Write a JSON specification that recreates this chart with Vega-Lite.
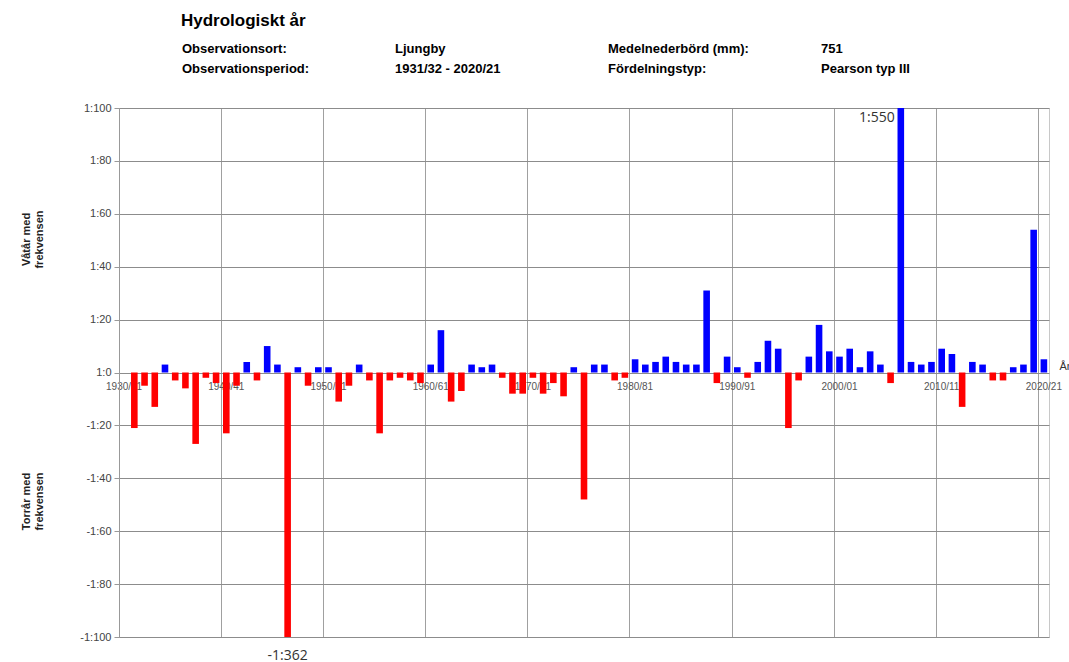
{
  "$schema": "https://vega.github.io/schema/vega-lite/v6.json",
  "padding": {"left": 19, "top": 12, "right": 0, "bottom": 0},
  "bounds": "flush",
  "spacing": 29,
  "config": {"view": {"stroke": null}, "font": "Liberation Sans"},
  "datasets": {
    "meta": [
      {"group": "1", "line": "1", "label": "Observationsort:", "value": "Ljungby"},
      {"group": "1", "line": "2", "label": "Observationsperiod:", "value": "1931/32  -  2020/21"},
      {"group": "2", "line": "1", "label": "Medelnederbörd (mm):", "value": "751"},
      {"group": "2", "line": "2", "label": "Fördelningstyp:", "value": "Pearson typ III"}
    ],
    "freq": [
      {"year": "1931/32", "value": -21}, {"year": "1932/33", "value": -5}, {"year": "1933/34", "value": -13},
      {"year": "1934/35", "value": 3}, {"year": "1935/36", "value": -3}, {"year": "1936/37", "value": -6},
      {"year": "1937/38", "value": -27}, {"year": "1938/39", "value": -2}, {"year": "1939/40", "value": -4},
      {"year": "1940/41", "value": -23}, {"year": "1941/42", "value": -5}, {"year": "1942/43", "value": 4},
      {"year": "1943/44", "value": -3}, {"year": "1944/45", "value": 10}, {"year": "1945/46", "value": 3},
      {"year": "1946/47", "value": -362}, {"year": "1947/48", "value": 2}, {"year": "1948/49", "value": -5},
      {"year": "1949/50", "value": 2}, {"year": "1950/51", "value": 2}, {"year": "1951/52", "value": -11},
      {"year": "1952/53", "value": -5}, {"year": "1953/54", "value": 3}, {"year": "1954/55", "value": -3},
      {"year": "1955/56", "value": -23}, {"year": "1956/57", "value": -3}, {"year": "1957/58", "value": -2},
      {"year": "1958/59", "value": -3}, {"year": "1959/60", "value": -4}, {"year": "1960/61", "value": 3},
      {"year": "1961/62", "value": 16}, {"year": "1962/63", "value": -11}, {"year": "1963/64", "value": -7},
      {"year": "1964/65", "value": 3}, {"year": "1965/66", "value": 2}, {"year": "1966/67", "value": 3},
      {"year": "1967/68", "value": -2}, {"year": "1968/69", "value": -8}, {"year": "1969/70", "value": -8},
      {"year": "1970/71", "value": -2}, {"year": "1971/72", "value": -8}, {"year": "1972/73", "value": -4},
      {"year": "1973/74", "value": -9}, {"year": "1974/75", "value": 2}, {"year": "1975/76", "value": -48},
      {"year": "1976/77", "value": 3}, {"year": "1977/78", "value": 3}, {"year": "1978/79", "value": -3},
      {"year": "1979/80", "value": -2}, {"year": "1980/81", "value": 5}, {"year": "1981/82", "value": 3},
      {"year": "1982/83", "value": 4}, {"year": "1983/84", "value": 6}, {"year": "1984/85", "value": 4},
      {"year": "1985/86", "value": 3}, {"year": "1986/87", "value": 3}, {"year": "1987/88", "value": 31},
      {"year": "1988/89", "value": -4}, {"year": "1989/90", "value": 6}, {"year": "1990/91", "value": 2},
      {"year": "1991/92", "value": -2}, {"year": "1992/93", "value": 4}, {"year": "1993/94", "value": 12},
      {"year": "1994/95", "value": 9}, {"year": "1995/96", "value": -21}, {"year": "1996/97", "value": -3},
      {"year": "1997/98", "value": 6}, {"year": "1998/99", "value": 18}, {"year": "1999/00", "value": 8},
      {"year": "2000/01", "value": 6}, {"year": "2001/02", "value": 9}, {"year": "2002/03", "value": 2},
      {"year": "2003/04", "value": 8}, {"year": "2004/05", "value": 3}, {"year": "2005/06", "value": -4},
      {"year": "2006/07", "value": 550}, {"year": "2007/08", "value": 4}, {"year": "2008/09", "value": 3},
      {"year": "2009/10", "value": 4}, {"year": "2010/11", "value": 9}, {"year": "2011/12", "value": 7},
      {"year": "2012/13", "value": -13}, {"year": "2013/14", "value": 4}, {"year": "2014/15", "value": 3},
      {"year": "2015/16", "value": -3}, {"year": "2016/17", "value": -3}, {"year": "2017/18", "value": 2},
      {"year": "2018/19", "value": 3}, {"year": "2019/20", "value": 54}, {"year": "2020/21", "value": 5}
    ]
  },
  "vconcat": [
    {
      "width": 930,
      "height": 40,
      "view": {"stroke": null},
      "title": {"text": "Hydrologiskt år", "anchor": "start", "dx": 62, "fontSize": 17, "fontWeight": "bold", "color": "#000000", "offset": 9, "font": "Liberation Sans"},
      "data": {"name": "meta"},
      "transform": [{"fold": ["label", "value"], "as": ["key", "text"]}],
      "mark": {"type": "text", "align": "left", "baseline": "middle", "fontSize": 13, "fontWeight": "bold", "color": "#000000", "font": "Liberation Sans"},
      "encoding": {
        "x": {"field": "group", "type": "nominal", "bandPosition": 0, "scale": {"type": "band", "domain": ["1", "2"], "paddingInner": 0.5, "paddingOuter": 0.3415, "align": 0.2165}, "axis": null},
        "xOffset": {"field": "key", "type": "nominal", "scale": {"type": "point", "domain": ["label", "value"], "padding": 0}},
        "y": {"field": "line", "type": "nominal", "scale": {"type": "point", "domain": ["1", "2"], "padding": 0.5}, "axis": null},
        "text": {"field": "text"}
      }
    },
    {
      "width": 930,
      "height": 529,
      "view": {"stroke": "#c8c8c8"},
      "data": {"name": "freq"},
      "resolve": {"axis": {"y": "independent"}},
      "encoding": {
        "x": {
          "field": "year", "type": "ordinal",
          "scale": {"type": "band", "paddingInner": 0.35, "paddingOuter": 0.175, "domain": [
            "1930/31","1931/32","1932/33","1933/34","1934/35","1935/36","1936/37","1937/38","1938/39","1939/40",
            "1940/41","1941/42","1942/43","1943/44","1944/45","1945/46","1946/47","1947/48","1948/49","1949/50",
            "1950/51","1951/52","1952/53","1953/54","1954/55","1955/56","1956/57","1957/58","1958/59","1959/60",
            "1960/61","1961/62","1962/63","1963/64","1964/65","1965/66","1966/67","1967/68","1968/69","1969/70",
            "1970/71","1971/72","1972/73","1973/74","1974/75","1975/76","1976/77","1977/78","1978/79","1979/80",
            "1980/81","1981/82","1982/83","1983/84","1984/85","1985/86","1986/87","1987/88","1988/89","1989/90",
            "1990/91","1991/92","1992/93","1993/94","1994/95","1995/96","1996/97","1997/98","1998/99","1999/00",
            "2000/01","2001/02","2002/03","2003/04","2004/05","2005/06","2006/07","2007/08","2008/09","2009/10",
            "2010/11","2011/12","2012/13","2013/14","2014/15","2015/16","2016/17","2017/18","2018/19","2019/20",
            "2020/21"]},
          "axis": {
            "values": ["1930/31","1940/41","1950/51","1960/61","1970/71","1980/81","1990/91","2000/01","2010/11","2020/21"],
            "bandPosition": -0.2692,
            "grid": true, "gridColor": "#a0a0a0", "gridWidth": 1, "gridOpacity": 1,
            "ticks": false, "tickSize": 0, "domain": false,
            "labelAngle": 0, "labelFontSize": 10, "labelColor": "#555555", "labelPadding": 9, "labelOverlap": false,
            "labelFont": "Liberation Sans",
            "offset": -264.5,
            "title": "År", "titleX": 940, "titleY": -6, "titleAlign": "left", "titleBaseline": "middle", "titleAngle": 0,
            "titleFontSize": 11, "titleFontWeight": "normal", "titleColor": "#333333", "titleFont": "Liberation Sans"
          }
        }
      },
      "layer": [
        {
          "mark": {"type": "bar", "width": 6.6},
          "encoding": {
            "y": {
              "field": "value", "type": "quantitative",
              "scale": {"domain": [-100, 100], "clamp": true, "nice": false},
              "axis": {
                "values": [-100, -80, -60, -40, -20, 0, 20, 40, 60, 80, 100],
                "labelExpr": "datum.value >= 0 ? '1:' + datum.value : '-1:' + (-datum.value)",
                "grid": true, "gridColor": "#8c8c8c", "gridWidth": 1, "gridOpacity": 1,
                "domainColor": "#999999", "tickColor": "#999999", "tickSize": 5,
                "labelFontSize": 11, "labelColor": "#444444", "labelPadding": 3, "labelFont": "Liberation Sans",
                "title": ["Våtår med", "frekvensen"],
                "titleX": -93, "titleY": 131, "titleAngle": 270, "titleAlign": "center", "titleBaseline": "middle",
                "titleFontSize": 11, "titleFontWeight": "bold", "titleColor": "#222222", "titleFont": "Liberation Sans"
              }
            },
            "color": {"condition": {"test": "datum.value > 0", "value": "#0000ff"}, "value": "#ff0000"}
          }
        },
        {
          "transform": [{"filter": "datum.value > 100"}, {"calculate": "'1:' + datum.value", "as": "lbl"}],
          "mark": {"type": "text", "align": "right", "baseline": "middle", "dx": -6, "dy": 10, "fontSize": 14, "font": "Open Sans", "color": "#333333"},
          "encoding": {
            "y": {"field": "value", "type": "quantitative", "axis": null},
            "text": {"field": "lbl"}
          }
        },
        {
          "transform": [{"filter": "datum.value < -100"}, {"calculate": "'-1:' + (-datum.value)", "as": "lbl"}],
          "mark": {"type": "text", "align": "center", "baseline": "middle", "dy": 19, "fontSize": 14, "font": "Open Sans", "color": "#333333"},
          "encoding": {
            "y": {
              "field": "value", "type": "quantitative",
              "axis": {
                "orient": "left", "labels": false, "ticks": false, "domain": false, "grid": false,
                "title": ["Torrår med", "frekvensen"],
                "titleX": -93, "titleY": 393, "titleAngle": 270, "titleAlign": "center", "titleBaseline": "middle",
                "titleFontSize": 11, "titleFontWeight": "bold", "titleColor": "#222222", "titleFont": "Liberation Sans"
              }
            },
            "text": {"field": "lbl"}
          }
        }
      ]
    }
  ]
}
